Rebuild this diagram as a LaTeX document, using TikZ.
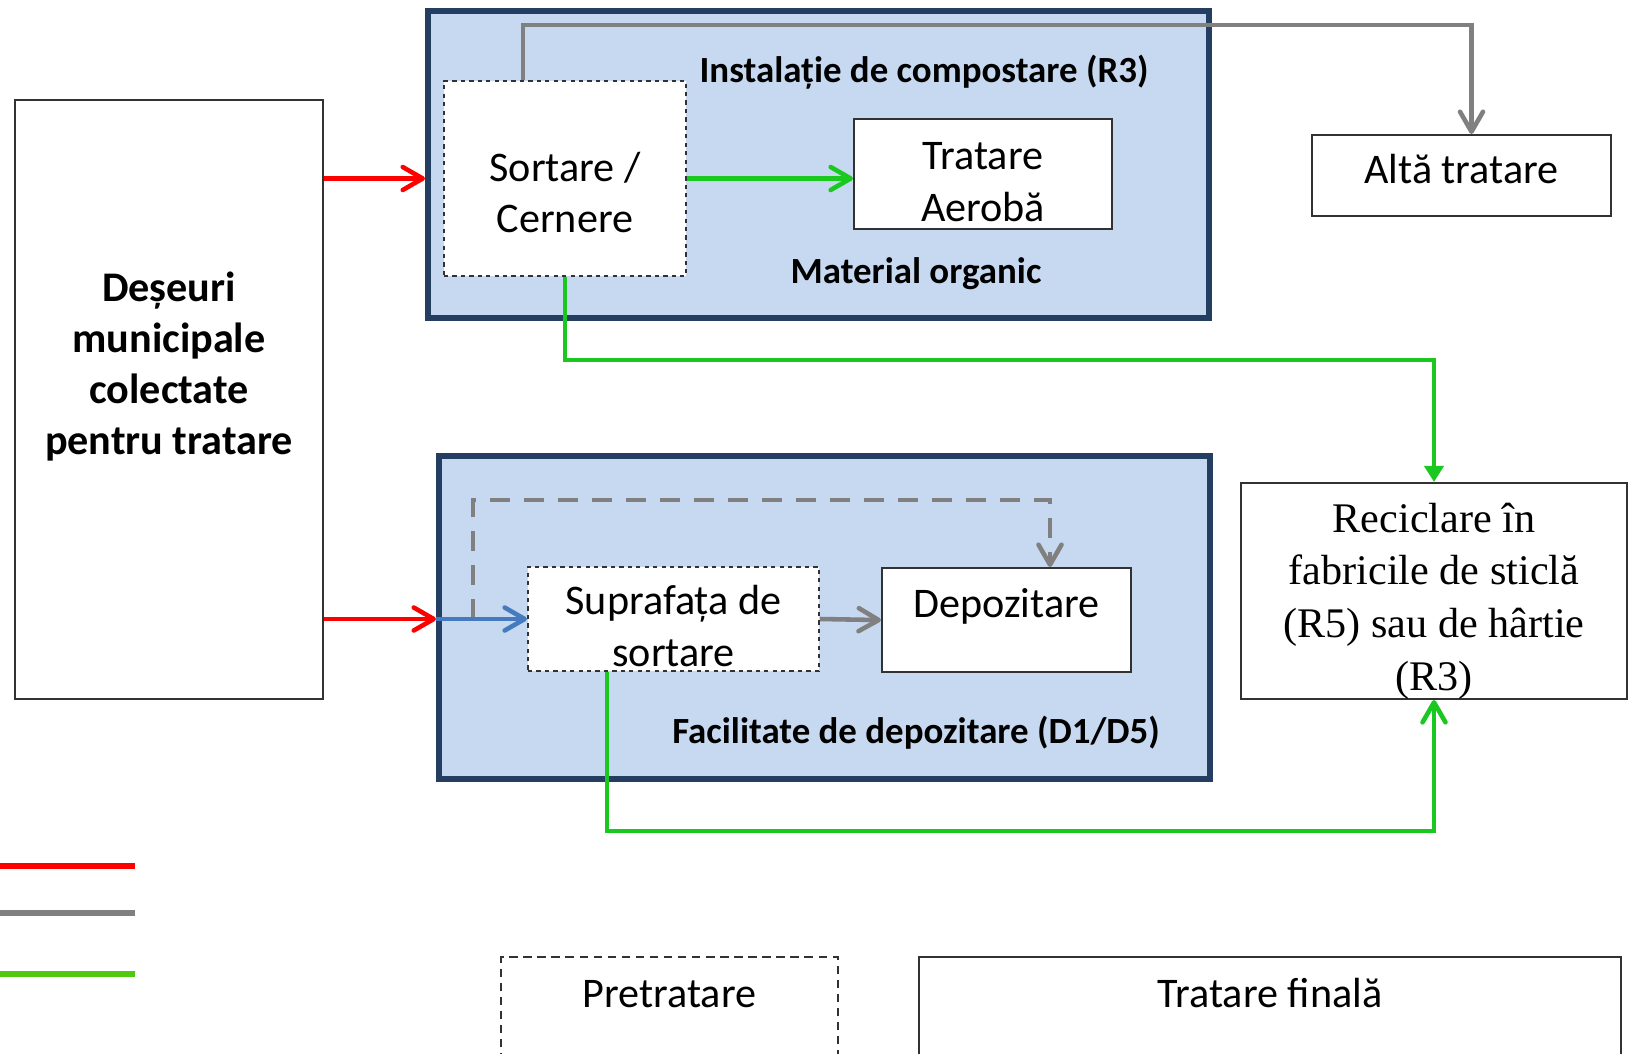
\documentclass[tikz,border=0pt]{standalone}
\usepackage{fontspec}
\setmainfont{Carlito}
\newfontfamily\timesfont{Liberation Serif}
\usepackage{xcolor}
\usetikzlibrary{arrows.meta, positioning}
\definecolor{framecolor}{RGB}{36,62,98}
\definecolor{plantfill}{RGB}{198,217,240}
\definecolor{redflow}{RGB}{255,0,0}
\definecolor{grayflow}{RGB}{128,128,128}
\definecolor{greenflow}{RGB}{26,200,32}
\definecolor{limeflow}{RGB}{80,200,15}
\definecolor{blueflow}{RGB}{70,122,190}
\definecolor{edgegray}{RGB}{50,50,50}

\tikzset{
  plant/.style={draw=framecolor, fill=plantfill, line width=1.7pt, inner sep=0pt},
  stage/.style={draw=edgegray, fill=white, line width=0.6pt, inner sep=0pt,
    font=\fontsize{12}{14.6}\selectfont},
  prestage/.style={stage, dash pattern=on 1.2pt off 1.2pt},
  stagetext/.style={align=center, inner sep=0pt, font=\fontsize{12}{14.6}\selectfont},
  plantlabel/.style={font=\bfseries\fontsize{10.5}{12.8}\selectfont},
  flow/.style={line width=1.3pt, -{Straight Barb[length=2mm,width=2.3mm,round]}},
  legendline/.style={line width=1.7pt}
}

\begin{document}
\begin{tikzpicture}
    \useasboundingbox (0,0) rectangle (16.34,-10.53);

    % input
    \node[stage, minimum width=3.08cm, minimum height=5.99cm] (waste) at (1.69,-3.995) {};
    \node[stagetext, font=\bfseries\fontsize{12}{14.5}\selectfont] (wastetxt)
        at ([yshift=0.33cm]waste.center) {Deșeuri\\municipale\\colectate\\pentru tratare};

    % composting plant
    \node[plant, minimum width=7.81cm, minimum height=3.07cm] (compost) at (8.185,-1.645) {};
    \node[plantlabel] (compostlbl) at (9.24,-0.72) {Instalație de compostare (R3)};
    \node[plantlabel] (organiclbl) at (9.16,-2.74) {Material organic};
    \node[prestage, minimum width=2.42cm, minimum height=1.95cm] (sort) at (5.65,-1.785) {};
    \node[stagetext] (sorttxt) at ([yshift=-0.14cm]sort.center) {Sortare /\\Cernere};
    \node[stage, minimum width=2.58cm, minimum height=1.10cm] (aer) at (9.83,-1.74) {};
    \node[stagetext] (aertxt) at ([yshift=-0.08cm]aer.center) {Tratare\\Aerobă};

    % landfill
    \node[plant, minimum width=7.71cm, minimum height=3.23cm] (store) at (8.245,-6.175) {};
    \node[plantlabel] (storelbl) at (9.16,-7.33) {Facilitate de depozitare (D1/D5)};
    \node[prestage, minimum width=2.91cm, minimum height=1.04cm] (surf) at (6.735,-6.19) {};
    \node[stagetext] (surftxt) at ([yshift=-0.07cm]surf.center) {Suprafața de\\sortare};
    \node[stage, anchor=north, minimum width=2.49cm, text height=0.495cm, text depth=0.545cm] (depo) at (10.065,-5.67) {Depozitare};

    % outputs
    \node[stage, anchor=north, minimum width=2.99cm, text height=0.485cm, text depth=0.325cm] (alt) at (14.615,-1.34) {Altă tratare};
    \node[stage, minimum width=3.86cm, minimum height=2.16cm] (recyc) at (14.34,-5.91) {};
    \node[stagetext, font=\timesfont\fontsize{12}{15}\selectfont] (recyctxt)
        at ([yshift=-0.1cm]recyc.center) {Reciclare în\\fabricile de sticlă\\(R5) sau de hârtie\\(R3)};

    % flows
    \draw[flow, redflow] (waste.east |- sort.west) -- (compost.west |- sort.west);
    \draw[flow, redflow] (waste.east |- surf.west) -- (store.west |- surf.west);
    \draw[flow, greenflow] (sort.east) -- (aer.west |- sort.east);
    \draw[flow, grayflow] ([xshift=-0.42cm]sort.north) -- ++(0,0.55) -| ([xshift=0.1cm]alt.north);
    \draw[flow, greenflow, -{Triangle[length=1.6mm,width=1.9mm]}] (sort.south) -- ++(0,-0.83) -| (recyc.north);
    \draw[flow, grayflow, dash pattern=on 0.2cm off 0.14cm] ([xshift=-0.54cm]surf.west) -- ++(0,1.19) -| ([xshift=0.435cm]depo.north);
    \draw[flow, blueflow] (store.west |- surf.west) -- (surf.west);
    \draw[flow, grayflow] (surf.east) -- (depo.west);
    \draw[flow, greenflow] ([xshift=-0.665cm]surf.south) -- ++(0,-1.59) -| (recyc.south);

    % legend
    \draw[legendline, redflow] (0,-8.66) -- (1.35,-8.66);
    \draw[legendline, grayflow] (0,-9.13) -- (1.35,-9.13);
    \draw[legendline, limeflow] (0,-9.74) -- (1.35,-9.74);
    \node[prestage, dash pattern=on 2.4pt off 1.6pt, anchor=north, minimum width=3.37cm,
        text height=0.505cm, text depth=0.935cm] (pre) at (6.695,-9.56) {Pretratare};
    \node[stage, anchor=north, minimum width=7.02cm,
        text height=0.505cm, text depth=0.935cm] (final) at (12.70,-9.56) {Tratare finală};
\end{tikzpicture}
\end{document}
